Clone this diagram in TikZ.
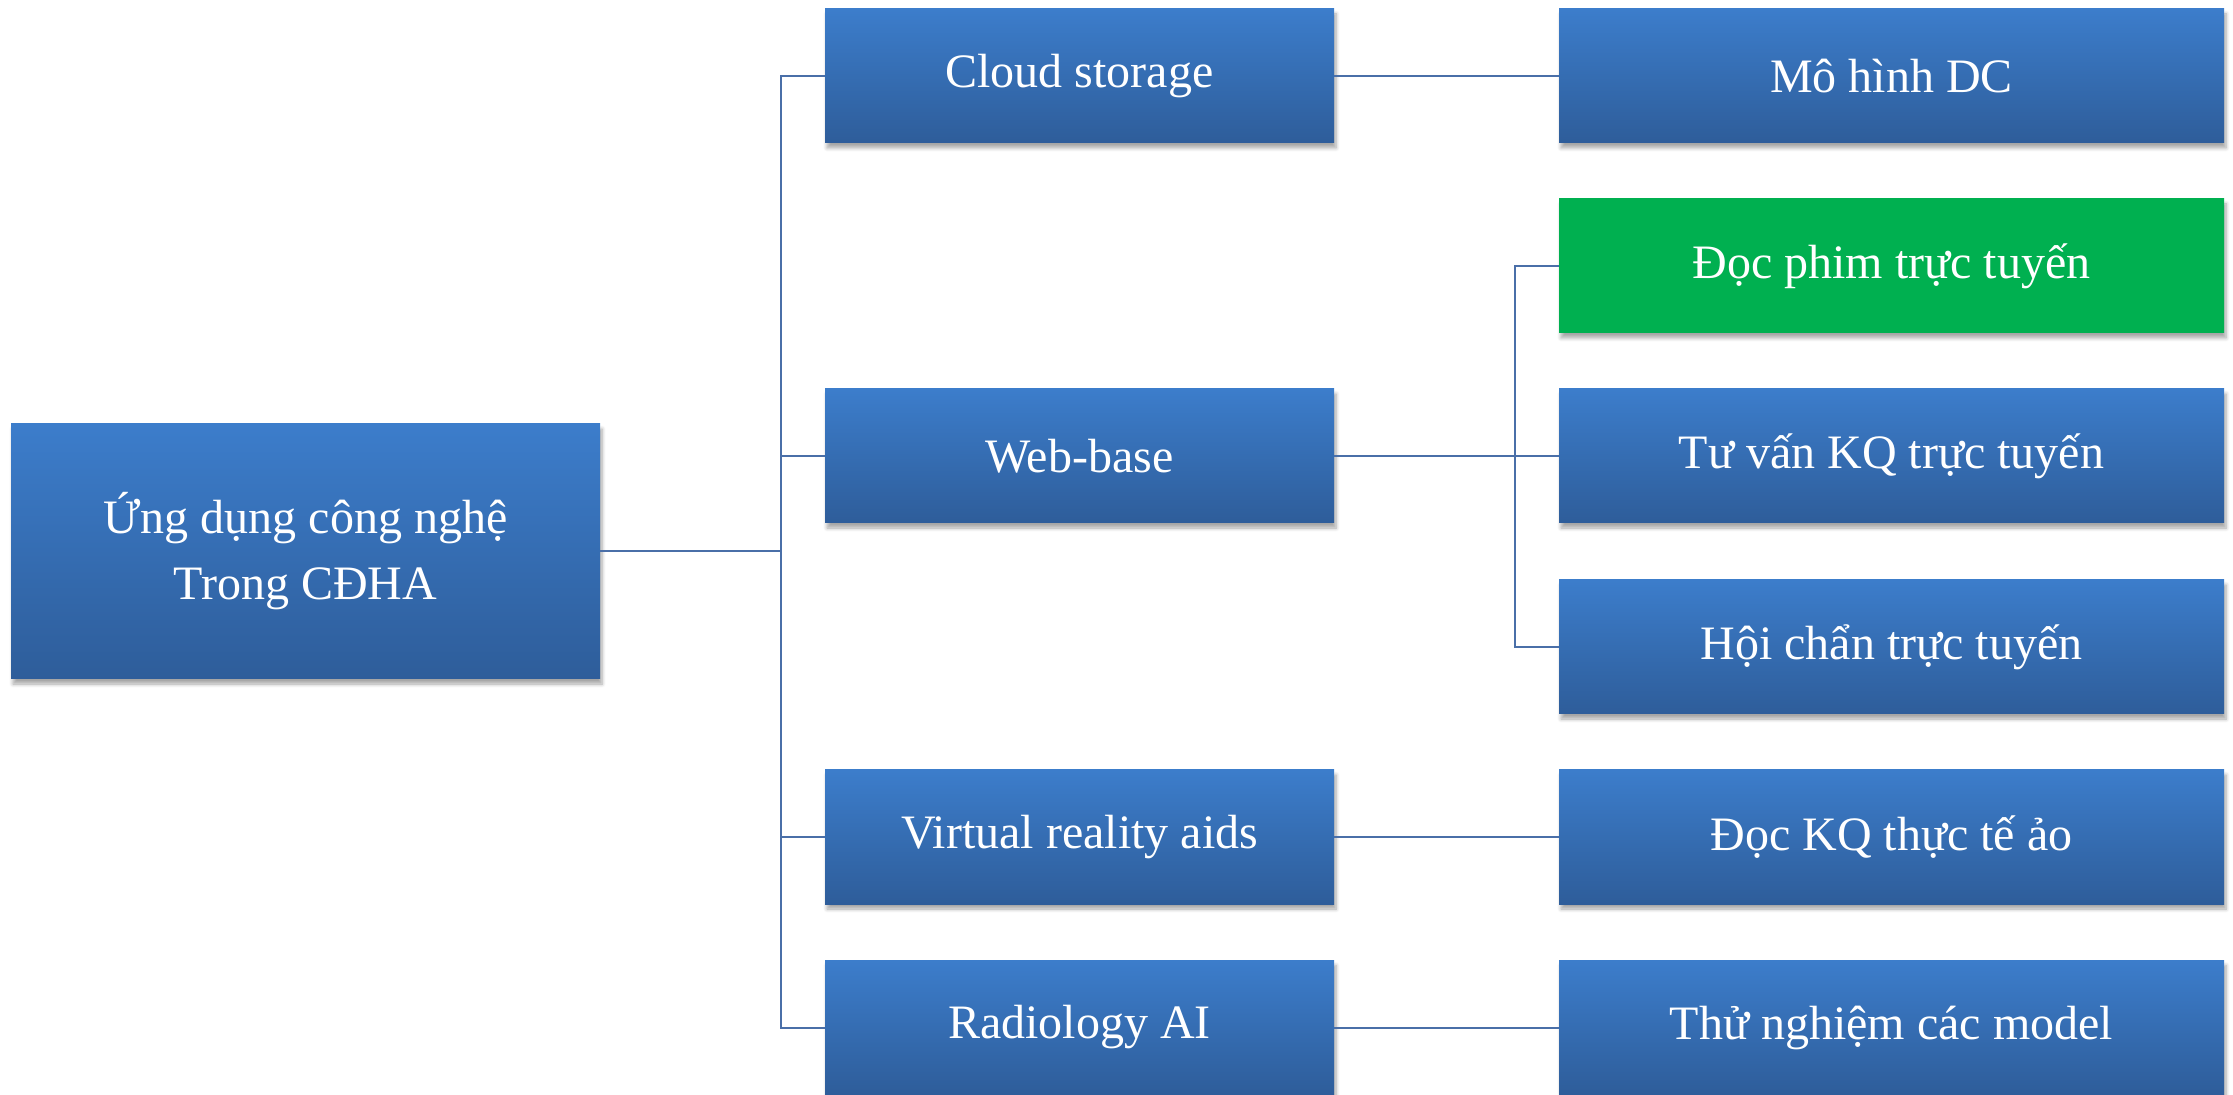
\documentclass[tikz,border=0pt]{standalone}
\usepackage{fontspec}
\setmainfont{Liberation Serif}
\usetikzlibrary{shadows.blur}
\definecolor{boxtop}{HTML}{3C7DCB}
\definecolor{boxbot}{HTML}{2E5D9A}
\definecolor{boxgreen}{HTML}{00B050}
\definecolor{linecol}{HTML}{4A6FA8}
\tikzset{
	box/.style={rectangle,inner sep=0pt,outer sep=0pt,minimum height=67pt,
		top color=boxtop,bottom color=boxbot,text=white,align=center,
		font=\fontsize{24}{33}\selectfont,
		blur shadow={shadow xshift=1pt,shadow yshift=-2.5pt,shadow blur steps=6,shadow opacity=35}},
	mid/.style={box,minimum width=254.5pt},
	leaf/.style={box,minimum width=332.5pt},
	link/.style={draw=linecol,line width=1pt}
}
\begin{document}
\begin{tikzpicture}[x=0.5pt,y=-0.5pt]
				\useasboundingbox (0,0) rectangle (2233,1095);
				\coordinate (T) at (781,0);
				\coordinate (U) at (1515,0);
				\node[box,minimum width=294.5pt,minimum height=127.5pt] (A) at (305.5,551.5) {Ứng dụng công nghệ\\Trong CĐHA};
				\node[mid] (B) at (1079.5,76) {Cloud storage};
				\node[mid] (C) at (1079.5,456) {Web-base};
				\node[mid] (D) at (1079.5,837) {Virtual reality aids};
				\node[mid] (E) at (1079.5,1027.5) {Radiology AI};
				\node[leaf] (F) at (1891.5,76) {Mô hình DC};
				\node[leaf,top color=boxgreen,bottom color=boxgreen] (G) at (1891.5,266) {Đọc phim trực tuyến};
				\node[leaf] (H) at (1891.5,456) {Tư vấn KQ trực tuyến};
				\node[leaf] (I) at (1891.5,647) {Hội chẩn trực tuyến};
				\node[leaf] (J) at (1891.5,837) {Đọc KQ thực tế ảo};
				\node[leaf] (K) at (1891.5,1027.5) {Thử nghiệm các model};
				\draw[link] (A.east) -- (A -| T) |- (B.west);
				\draw[link] (A -| T) |- (C.west);
				\draw[link] (A -| T) |- (D.west);
				\draw[link] (A -| T) |- (E.west);
				\draw[link] (B.east) -- (F.west);
				\draw[link] (C.east) -- (C -| U) |- (G.west);
				\draw[link] (C -| U) -- (H.west);
				\draw[link] (C -| U) |- (I.west);
				\draw[link] (D.east) -- (J.west);
				\draw[link] (E.east) -- (K.west);
			\end{tikzpicture}
\end{document}
